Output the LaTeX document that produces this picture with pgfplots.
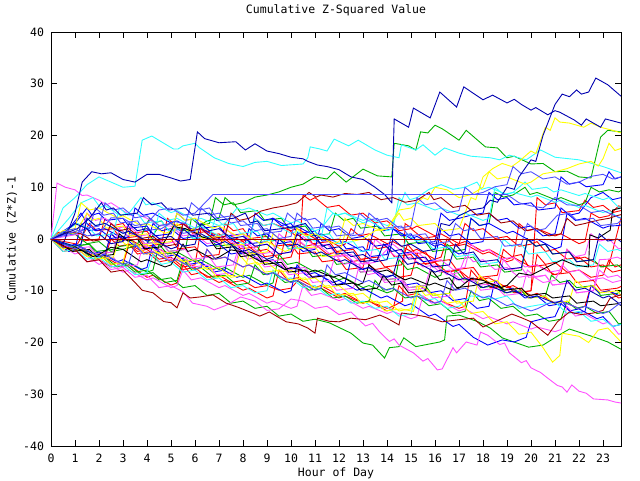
\documentclass[border=0pt]{standalone}
\usepackage{fontspec}
\setmainfont{DejaVu Sans Mono}
\usepackage{pgfplots}
\pgfplotsset{compat=1.18}
\definecolor{cR}{HTML}{FF0000}
\definecolor{cG}{HTML}{00B000}
\definecolor{cB}{HTML}{0000FF}
\definecolor{cM}{HTML}{FF50FF}
\definecolor{cC}{HTML}{30FFFF}
\definecolor{cY}{HTML}{FFFF00}
\definecolor{cK}{HTML}{000000}
\definecolor{cD}{HTML}{A00000}
\definecolor{cN}{HTML}{0000B0}
\definecolor{cS}{HTML}{5050FF}
\begin{document}
\fontsize{11.5}{13}\selectfont
\begin{tikzpicture}[x=1pt,y=1pt]
\path[use as bounding box] (0,0) rectangle (640,480);
\begin{axis}[
  at={(51pt,34pt)}, anchor=south west,
  scale only axis, width=570pt, height=414pt,
  xmin=0, xmax=23.75, ymin=-40, ymax=40,
  xtick={0,1,...,23}, ytick={-40,-30,...,40},
  tick align=inside, major tick length=6pt,
  tick style={black, line width=0.8pt},
  axis line style={black, line width=0.9pt},
  /pgf/number format/assume math mode=true,
  ticklabel style={font=\fontsize{11.5}{13}\selectfont},
  yticklabel style={xshift=-3pt},
  xticklabel style={yshift=-4pt},
  title={Cumulative Z-Squared Value},
  xlabel={Hour of Day},
  ylabel={Cumulative (Z*Z)-1},
  title style={at={(axis description cs:0.5,1)}, anchor=center, yshift=16pt, font=\fontsize{11.5}{13}\selectfont},
  xlabel style={at={(axis description cs:0.5,0)}, anchor=center, yshift=-27pt, font=\fontsize{11.5}{13}\selectfont},
  ylabel style={at={(axis description cs:0,0.5)}, anchor=center, yshift=39pt, font=\fontsize{11.5}{13}\selectfont},
  no markers,
  every axis plot/.append style={line width=0.9pt, line join=miter},
  clip=true,
]
% red series
\addplot[cR] coordinates {(0,0)(1,-1.9)(1.25,-1.5)(2,-3.4)(2.25,-3)(2.5,1)(2.85,-0.4)(3.25,0)(4,-1.9)(4.25,-1.5)(5,-2.9)(5.25,-2.5)(5.5,3)(5.85,1.6)(6.25,2)(7,0.6)(7.25,1)(8,-0.4)(8.25,0)(8.5,4)(8.85,2.6)(9.25,3)(10,1.6)(10.25,2)(11,0.1)(11.25,0.5)(12,-1.4)(12.25,-1)(12.5,2)(12.85,0.6)(13.25,1)(14,-0.9)(14.25,-0.5)(15,-2.4)(15.25,-2)(16,-3.9)(16.25,-3.5)(16.5,0)(16.85,-1.4)(17.25,-1)(18,-2.9)(18.25,-2.5)(19,-4.4)(19.25,-4)(19.5,3)(19.85,1.6)(20.25,2)(21,0.6)(21.25,1)(22,-0.9)(22.25,-0.5)(22.5,5)(22.85,4.1)(23.25,4.5)(23.65,6.4)(24,6)};
\addplot[cR] coordinates {(0,0)(1.1,-1)(1.6,3)(1.9,1.6)(2.6,2)(2.9,0.1)(3.6,0.5)(3.9,-1.4)(4.6,-1)(4.85,4)(5.2,2.6)(5.6,3)(5.9,1.1)(6.6,1.5)(6.9,-0.4)(7.6,0)(7.9,-1.9)(8.6,-1.5)(8.9,-3.4)(9.6,-3)(9.85,2)(10.2,0.6)(10.6,1)(10.9,-0.9)(11.6,-0.5)(11.9,-2.4)(12.6,-2)(12.9,-3.9)(13.6,-3.5)(13.9,-5.4)(14.6,-5)(14.85,-1)(15.2,-2.9)(15.6,-2.5)(15.9,-4.4)(16.6,-4)(16.9,-5.9)(17.6,-5.5)(17.9,-7.4)(18.6,-7)(18.85,-2)(19.2,-3.4)(19.6,-3)(19.9,-5.4)(20.6,-5)(20.9,-6.9)(21.6,-6.5)(21.9,-8.4)(22.6,-8)(22.9,-9.9)(23.6,-9.5)(24,-8.6)};
\addplot[cR] coordinates {(0,0)(0.5,-2.4)(1,-2)(1.5,-4.4)(2,-4)(2.5,-5.4)(3,-5)(3.25,-1)(3.6,-2.4)(4,-2)(4.5,-3.9)(5,-3.5)(5.5,-5.4)(6,-5)(6.25,2)(6.6,0.6)(7,1)(7.5,-0.9)(8,-0.5)(8.5,-2.4)(9,-2)(9.5,-3.9)(10,-3.5)(10.25,0)(10.6,-1.4)(11,-1)(11.5,-2.9)(12,-2.5)(12.5,-4.4)(13,-4)(13.5,-5.9)(14,-5.5)(14.5,-7.4)(15,-7)(15.25,-3)(15.6,-4.9)(16,-4.5)(16.5,-6.4)(17,-6)(17.5,-7.9)(18,-7.5)(18.5,-9.4)(19,-9)(19.5,-10.4)(20,-10)(20.25,-3)(20.6,-4.9)(21,-4.5)(21.5,-6.4)(22,-6)(22.5,-7.4)(23,-7)(23.25,-4)(23.5,-5.4)(23.75,-5)};
\addplot[cR] coordinates {(0,0)(1,-2.4)(1.25,-2)(2,-3.9)(2.25,-3.5)(3,-5.4)(3.25,-5)(4,-7.4)(4.25,-7)(5,-8.9)(5.25,-8.5)(5.5,-5)(5.85,-6.9)(6.25,-6.5)(7,-8.4)(7.25,-8)(8,-9.9)(8.25,-9.5)(9,-11.4)(9.25,-11)(9.5,-6)(9.85,-7.9)(10.25,-7.5)(11,-9.4)(11.25,-9)(12,-10.9)(12.25,-10.5)(13,-12.4)(13.25,-12)(14,-13.9)(14.25,-13.5)(14.5,-9)(14.85,-10.9)(15.25,-10.5)(16,-12.4)(16.25,-12)(17,-13.4)(17.25,-13)(17.5,-6)(17.85,-7.9)(18.25,-7.5)(19,-9.4)(19.25,-9)(20,-10.9)(20.25,-10.5)(21,-12.4)(21.25,-12)(22,-13.4)(22.25,-13)(22.5,-9)(22.85,-10.4)(23.25,-10)(23.65,-11.4)(24,-11)};
\addplot[cR] coordinates {(0,0)(0.3,1.3)(1,1)(1.3,-0.4)(2,0)(2.25,4)(2.6,2.6)(3,3)(3.3,1.1)(4,1.5)(4.3,-0.4)(5,0)(5.3,-1.9)(6,-1.5)(6.3,-3.4)(7,-3)(7.25,3)(7.6,1.6)(8,2)(8.3,0.1)(9,0.5)(9.3,-1.4)(10,-1)(10.3,-2.9)(11,-2.5)(11.3,-4.4)(12,-4)(12.3,-5.9)(13,-5.5)(13.25,0)(13.6,-1.9)(14,-1.5)(14.3,-3.4)(15,-3)(15.3,-4.9)(16,-4.5)(16.3,-6.4)(17,-6)(17.3,-7.9)(18,-7.5)(18.3,-9.4)(19,-9)(19.3,-10.4)(20,-10)(20.25,8)(20.6,6.6)(21,7)(21.3,5.1)(22,5.5)(22.25,7.5)(22.6,6.1)(23,6.5)(23.4,5.1)(23.75,5.5)};
\addplot[cR] coordinates {(0,0)(0.5,-1.9)(1,-1.5)(1.5,-3.4)(2,-3)(2.5,-4.9)(3,-4.5)(3.25,-1)(3.6,-2.9)(4,-2.5)(4.5,-4.4)(5,-4)(5.5,-5.9)(6,-5.5)(6.5,-7.4)(7,-7)(7.5,-8.4)(8,-8)(8.5,-9.4)(9,-9)(9.5,-9.9)(10,-9.5)(10.3,-8)(10.4,1)(10.5,8.5)(10.8,7.5)(11,8)(11.5,6.1)(12,6.5)(12.5,4.6)(13,5)(13.5,3.1)(14,3.5)(14.5,1.6)(15,2)(15.5,0.1)(16,0.5)(16.5,-1.4)(17,-1)(17.25,3)(17.6,1.6)(18,2)(18.5,0.1)(19,0.5)(19.5,-1.4)(20,-1)(20.25,-0.5)(20.6,-2.4)(21,-2)(21.5,-3.9)(22,-3.5)(22.5,-5.4)(23,-5)(23.4,-6.4)(23.75,-6)};
\addplot[cR] coordinates {(0,0)(1,-2.4)(1.25,-2)(2,-3.9)(2.25,-3.5)(2.5,0)(2.85,-1.4)(3.25,-1)(4,-2.9)(4.25,-2.5)(5,-4.4)(5.25,-4)(6,-5.9)(6.25,-5.5)(6.5,-2)(6.85,-3.9)(7.25,-3.5)(8,-5.4)(8.25,-5)(9,-6.9)(9.25,-6.5)(10,-8.4)(10.25,-8)(11,-9.9)(11.25,-9.5)(12,-11.4)(12.25,-11)(13,-12.4)(13.25,-12)(14,-13.4)(14.25,-13)(14.65,-12)(14.75,3)(15.05,2)(15.25,2.5)(16,0.6)(16.25,1)(17,-0.9)(17.25,-0.5)(18,-2.4)(18.25,-2)(19,-3.9)(19.25,-3.5)(20,-5.4)(20.25,-5)(21,-6.9)(21.25,-6.5)(21.5,-2)(21.85,-3.9)(22.25,-3.5)(23,-5.4)(23.25,-5)(23.75,4)(24,3)};
% green series
\addplot[cG] coordinates {(0,0)(0.9,-1.4)(1.6,-1)(1.9,-2.9)(2.6,-2.5)(2.85,2)(3.2,0.6)(3.6,1)(3.9,-0.9)(4.6,-0.5)(4.9,-2.4)(5.6,-2)(5.85,4)(6.2,2.6)(6.6,3)(6.85,8)(7.2,6.6)(7.6,7)(7.9,5.1)(8.6,5.5)(8.9,3.6)(9.6,4)(9.9,2.1)(10.6,2.5)(10.9,0.6)(11.6,1)(11.85,5)(12.2,3.6)(12.6,4)(12.9,2.1)(13.6,2.5)(13.9,0.6)(14.6,1)(14.9,-0.9)(15.6,-0.5)(15.9,-2.4)(16.6,-2)(16.9,-3.9)(17.6,-3.5)(17.9,-5.4)(18.6,-5)(18.9,-6.4)(19.6,-6)(19.85,0)(20.2,-1.4)(20.6,-1)(20.9,-2.9)(21.6,-2.5)(21.9,-4.4)(22.6,-4)(22.9,-5.4)(23.6,-5)(24,-6.4)};
\addplot[cG] coordinates {(0,0)(1,-1.9)(1.25,-1.5)(2,-3.4)(2.25,-3)(3,-4.9)(3.25,-4.5)(4,-6.4)(4.25,-6)(4.5,-1)(4.85,-2.9)(5.25,-2.5)(6,-4.4)(6.25,-4)(7,-5.9)(7.25,-5.5)(8,-7.4)(8.25,-7)(9,-8.9)(9.25,-8.5)(9.5,-3)(9.85,-4.9)(10.25,-4.5)(11,-6.4)(11.25,-6)(12,-7.9)(12.25,-7.5)(13,-9.4)(13.25,-9)(14,-10.4)(14.25,-10)(14.5,-4)(14.85,-5.9)(15.25,-5.5)(16,-7.4)(16.25,-7)(16.5,-1)(16.85,-2.4)(17.25,-2)(17.5,4)(17.85,2.6)(18.25,3)(18.5,9)(18.85,8.1)(19.25,8.5)(19.75,10)(19.95,8.6)(20.25,9)(21,7.6)(21.25,8)(22,6.6)(22.25,7)(22.5,10)(22.85,9.1)(23.25,9.5)(23.65,9.1)(24,10)};
\addplot[cG] coordinates {(0,0)(0.75,-2.4)(1.25,-2)(1.75,-3.9)(2.25,-3.5)(2.75,-5.4)(3.25,-5)(3.75,-6.9)(4.25,-6.5)(4.75,-8.4)(5.25,-8)(5.5,-4)(5.85,-5.9)(6.25,-5.5)(6.75,-7.4)(7.25,-7)(7.75,-8.9)(8.25,-8.5)(8.5,-5)(8.85,-6.9)(9.25,-6.5)(9.75,-8.4)(10.25,-8)(10.75,-9.9)(11.25,-9.5)(11.75,-11.4)(12.25,-11)(12.75,-12.4)(13.25,-12)(13.5,-8)(13.85,-9.9)(14.25,-9.5)(14.75,-11.4)(15.25,-11)(15.75,-12.9)(16.25,-12.5)(16.75,-14.4)(17.25,-14)(17.5,-10)(17.85,-11.9)(18.25,-11.5)(18.75,-13.4)(19.25,-13)(19.75,-14.9)(20.25,-14.5)(20.75,-15.9)(21.25,-15.5)(21.5,-12)(21.85,-13.4)(22.25,-13)(22.75,-14.4)(23.25,-14)(23.65,-16.4)(24,-16)};
\addplot[cG] coordinates {(0,0)(0.9,-1.4)(1.6,-1)(1.9,-2.4)(2.6,-2)(2.9,-1.4)(3.6,-1)(4.1,4)(4.3,3.1)(4.6,3.5)(4.9,1.6)(5.6,2)(5.9,0.1)(6.6,0.5)(6.9,-1.4)(7.6,-1)(7.9,-2.9)(8.6,-2.5)(8.85,1)(9.2,-0.4)(9.6,0)(9.9,-1.9)(10.6,-1.5)(10.9,-3.4)(11.6,-3)(11.9,-4.9)(12.6,-4.5)(12.9,-6.4)(13.6,-6)(13.9,-7.9)(14.6,-7.5)(14.9,-9.4)(15.6,-9)(15.9,-10.9)(16.6,-10.5)(16.85,-6)(17.2,-7.9)(17.6,-7.5)(17.9,-9.4)(18.6,-9)(18.9,-10.4)(19.6,-10)(19.9,-11.4)(20.6,-11)(20.85,-7)(21.2,-8.4)(21.6,-8)(21.9,-9.4)(22.6,-9)(22.9,-10.9)(23.6,-10.5)(24,-9.1)};
\addplot[cG] coordinates {(0,0)(0.5,-1.4)(1,-2)(1.5,-2.4)(2,-3)(2.5,-4.9)(3,-4.5)(3.5,-6.4)(4,-6)(4.5,-7.9)(5,-7.5)(5.5,-9.4)(6,-9)(6.5,-10.9)(7,-10.5)(7.5,-12.4)(8,-12)(8.5,-13.4)(9,-13)(9.5,-14.9)(10,-14.5)(10.5,-15.9)(11,-15.5)(11.6,-16.2)(12.5,-18.2)(13,-20.1)(13.4,-20.5)(13.9,-23)(14.1,-21)(14.5,-20.8)(14.7,-19.1)(15.2,-20.8)(16.2,-19.9)(16.4,-19.5)(16.5,-14.9)(17,-14.7)(17.8,-16)(18.3,-17.2)(18.8,-19.1)(19.9,-20.9)(20.5,-20.5)(21.3,-18.2)(21.6,-17.4)(22.6,-18.9)(23.2,-19.9)(23.75,-21.3)};
\addplot[cG] coordinates {(0,0)(0.5,1.3)(1,1)(1.5,-0.9)(2,-0.5)(2.5,-2.4)(3,-2)(3.5,-1.4)(4,-1)(4.5,2.5)(5,3)(5.5,1.6)(6,2)(6.5,3.5)(7,4)(7.25,8)(7.6,6.6)(8,7)(8.5,8.1)(9,8.5)(9.5,9.1)(10,10)(10.5,10.6)(11,12)(11.5,11.6)(11.8,13)(12.3,11)(13,13.5)(13.6,12.2)(14.2,12)(14.3,18.5)(14.9,18)(15.2,17.2)(15.4,20.7)(15.7,20.5)(16,22)(16.3,21.3)(17,19.1)(17.3,21)(18.1,17.8)(18.6,17.6)(19,15.7)(19.3,16)(20,14.5)(20.5,14.6)(21,13)(21.5,13.1)(22,12)(22.5,11.8)(22.9,19.7)(23.2,21)(23.75,20.7)};
% blue series
\addplot[cB] coordinates {(0,0)(0.75,2)(1.25,5)(1.5,3)(1.85,1.6)(2.25,2)(3,0.1)(3.25,0.5)(3.5,6)(3.85,4.6)(4.25,5)(5,3.1)(5.25,3.5)(6,1.6)(6.25,2)(7,0.1)(7.25,0.5)(8,-1.4)(8.25,-1)(8.5,5)(8.85,3.6)(9.25,4)(10,2.1)(10.25,2.5)(11,0.6)(11.25,1)(12,-0.9)(12.25,-0.5)(13,-2.4)(13.25,-2)(13.5,3)(13.85,1.6)(14.25,2)(15,0.1)(15.25,0.5)(16,-1.4)(16.25,-1)(17,-2.9)(17.25,-2.5)(17.5,4)(17.85,2.6)(18.25,3)(19,1.1)(19.25,1.5)(20,-0.4)(20.25,0)(21,-1.9)(21.25,-1.5)(21.5,5)(21.85,3.6)(22.25,4)(23,2.1)(23.25,2.5)(23.65,2.6)(24,3)};
\addplot[cB] coordinates {(0,0)(0.75,-2.4)(1.25,-2)(1.75,-3.4)(2.25,-3)(2.5,1)(2.85,-0.4)(3.25,0)(3.75,-1.9)(4.25,-1.5)(4.75,-3.4)(5.25,-3)(5.75,-4.9)(6.25,-4.5)(6.75,-6.4)(7.25,-6)(7.5,-1)(7.85,-2.9)(8.25,-2.5)(8.75,-4.4)(9.25,-4)(9.75,-5.9)(10.25,-5.5)(10.75,-7.4)(11.25,-7)(11.75,-8.9)(12.25,-8.5)(12.5,-4)(12.85,-5.9)(13.25,-5.5)(13.75,-7.4)(14.25,-7)(14.75,-8.9)(15.25,-8.5)(15.75,-10.4)(16.25,-10)(16.75,-11.9)(17.25,-11.5)(17.75,-13.4)(18.25,-13)(18.5,-8)(18.85,-9.9)(19.25,-9.5)(19.75,-11.4)(20.25,-11)(20.75,-12.9)(21.25,-12.5)(21.75,-14.4)(22.25,-14)(22.5,-9)(22.85,-10.4)(23.25,-10)(23.65,-10.9)(24,-10.5)};
\addplot[cB] coordinates {(0,0)(0.5,1.5)(1,3)(1.5,6)(1.7,4.6)(2,5)(2.3,3.6)(3,4)(3.3,2.1)(4,2.5)(4.3,0.6)(5,1)(5.25,5)(5.6,3.6)(6,4)(6.3,2.1)(7,2.5)(7.3,0.6)(8,1)(8.3,-0.9)(9,-0.5)(9.25,4)(9.6,2.6)(10,3)(10.3,1.1)(11,1.5)(11.3,-0.4)(12,0)(12.3,-1.9)(13,-1.5)(13.3,-3.4)(14,-3)(14.25,2)(14.6,0.6)(15,1)(15.3,-0.9)(16,-0.5)(16.25,5)(16.6,3.6)(17,4)(17.5,4.6)(18,5)(18.25,9)(18.6,7.6)(19,8)(19.3,6.6)(20,7)(20.3,5.6)(21,6)(21.25,12)(21.6,10.6)(22,11)(22.3,10.1)(23,10.5)(23.25,13)(23.5,11.6)(23.75,12)};
\addplot[cB] coordinates {(0,0)(0.75,-1.4)(1,-1)(1.75,-2.9)(2,-2.5)(2.75,-4.4)(3,-4)(3.75,-5.9)(4,-5.5)(4.25,-1)(4.6,-2.9)(5,-2.5)(5.75,-4.4)(6,-4)(6.75,-5.9)(7,-5.5)(7.75,-7.4)(8,-7)(8.75,-8.9)(9,-8.5)(9.75,-10.4)(10,-10)(10.25,-5)(10.6,-6.9)(11,-6.5)(11.75,-8.4)(12,-8)(12.75,-9.9)(13,-9.5)(13.75,-11.4)(14,-11)(14.75,-12.9)(15,-12.5)(15.75,-14.9)(16,-14.5)(16.75,-16.9)(17,-16.5)(17.6,-19)(18.2,-20.5)(18.8,-19.5)(19.3,-19.9)(19.8,-19)(20,-16)(20.5,-15.4)(21,-15)(21.3,-12)(21.6,-13.9)(22,-13.5)(22.75,-15.4)(23,-15)(23.4,-16.9)(23.75,-16.5)};
\addplot[cB] coordinates {(0,0)(0.5,-1)(1,-2)(1.25,3)(1.6,1.6)(2,2)(2.5,0.1)(3,0.5)(3.5,-1.4)(4,-1)(4.25,3)(4.6,1.6)(5,2)(5.5,0.1)(6,0.5)(6.5,-1.4)(7,-1)(7.5,-2.9)(8,-2.5)(8.25,2)(8.6,0.6)(9,1)(9.5,-0.9)(10,-0.5)(10.5,-2.4)(11,-2)(11.25,3)(11.6,1.6)(12,2)(12.5,0.1)(13,0.5)(13.5,-1.4)(14,-1)(14.5,-2.9)(15,-2.5)(15.5,-4.4)(16,-4)(16.25,2)(16.6,0.6)(17,1)(17.5,-0.9)(18,-0.5)(18.25,5)(18.6,3.6)(19,4)(19.5,2.1)(20,2.5)(20.5,0.6)(21,1)(21.25,6)(21.6,4.6)(22,5)(22.5,8)(23,9)(23.4,7.6)(23.75,8)};
% magenta series
\addplot[cM] coordinates {(0,0)(0.5,-1.4)(1,-2)(1.5,-4.4)(2,-4)(2.5,-5.9)(3,-5.5)(3.5,-7.4)(4,-7)(4.5,-9.4)(5,-9)(5.5,-10.2)(5.9,-12.4)(6.5,-13)(6.8,-13.7)(7.3,-12.8)(7.9,-11.2)(8.5,-12)(9,-13.8)(9.5,-13.5)(10,-11.6)(10.5,-12)(11,-13.4)(11.5,-13)(12,-14.6)(12.5,-14.1)(13.1,-16.8)(13.4,-16.3)(13.7,-18)(14.1,-19.8)(14.3,-19.3)(14.5,-20.5)(15.1,-22)(15.5,-23.6)(15.7,-23.1)(16.1,-25.3)(16.3,-25.1)(16.75,-21)(16.9,-22)(17.3,-19.9)(17.75,-20.5)(17.9,-18)(18.2,-18.6)(18.7,-20.4)(18.9,-20.1)(19.1,-22)(19.6,-23.9)(19.8,-23.5)(20,-24.9)(20.4,-25.8)(20.7,-26.9)(21.1,-28.3)(21.3,-28.6)(21.5,-29.6)(21.7,-28.2)(22,-29.4)(22.3,-29.8)(22.6,-30.9)(23.2,-31.1)(23.5,-31.5)(23.75,-31.7)};
\addplot[cM] coordinates {(0,0)(0.25,10.8)(0.6,10)(1,9.5)(1.3,8.4)(1.5,8.5)(2,7.5)(2.3,6.6)(2.5,7)(3,5.5)(3.3,4.6)(3.5,5)(4,4)(4.5,2.6)(5,2.5)(5.5,0.6)(6,1)(6.5,-0.9)(7,-0.5)(7.3,2)(7.6,0.6)(8,1)(8.5,-1.4)(9,-1)(9.5,-2.9)(10,-2.5)(10.5,0.5)(11,-1.4)(11.5,-1)(12,-3.4)(12.5,-3)(13,-4.9)(13.5,-4.5)(14,-2)(14.5,-3.9)(15,-3.5)(15.5,-5.4)(16,-5)(16.5,-6.9)(17,-6.5)(17.3,-3)(17.6,-4.4)(18,-4)(18.5,-5.9)(19,-5.5)(19.5,-7.4)(20,-7)(20.5,-8.4)(21,-8)(21.3,-5)(21.6,-6.4)(22,-6)(22.5,-7.9)(23,-7.5)(23.4,-8.4)(23.75,-8)};
\addplot[cM] coordinates {(0,0)(0.9,-2.4)(1.6,-2)(1.9,-3.9)(2.6,-3.5)(2.9,-5.4)(3.6,-5)(3.85,-1)(4.2,-2.4)(4.6,-2)(4.9,-3.9)(5.6,-3.5)(5.9,-5.4)(6.6,-5)(6.9,-6.9)(7.6,-6.5)(7.85,-2)(8.2,-3.9)(8.6,-3.5)(8.9,-5.4)(9.6,-5)(9.9,-6.9)(10.6,-6.5)(10.9,-8.4)(11.6,-8)(11.9,-9.9)(12.6,-9.5)(12.85,-5)(13.2,-6.9)(13.6,-6.5)(13.9,-8.4)(14.6,-8)(14.9,-9.9)(15.6,-9.5)(15.9,-11.4)(16.6,-11)(16.85,-7)(17.2,-8.4)(17.6,-8)(17.9,-9.9)(18.6,-9.5)(18.9,-10.9)(19.6,-10.5)(19.85,-6)(20.2,-7.4)(20.6,-7)(20.9,-8.9)(21.6,-8.5)(21.9,-10.4)(22.6,-10)(22.85,-4)(23.2,-3.9)(23.6,-3.5)(24,-4.4)};
\addplot[cM] coordinates {(0,0)(1,-2.9)(1.25,-2.5)(2,-4.9)(2.25,-4.5)(3,-6.4)(3.25,-6)(4,-7.9)(4.25,-7.5)(5,-9.4)(5.25,-9)(5.5,-6)(5.85,-7.9)(6.25,-7.5)(7,-9.4)(7.25,-9)(8,-10.9)(8.25,-10.5)(9,-12.4)(9.25,-12)(10,-13.4)(10.25,-13)(10.5,-9)(10.85,-10.9)(11.25,-10.5)(12,-11.9)(12.25,-11.5)(13,-13.4)(13.25,-13)(14,-14.4)(14.25,-14)(15,-15.4)(15.25,-15)(15.5,-11)(15.85,-12.4)(16.25,-12)(17,-13.9)(17.25,-13.5)(18,-15.4)(18.25,-15)(19,-16.4)(19.25,-16)(20,-17.4)(20.25,-17)(21,-17.9)(21.25,-17.5)(21.5,-13)(21.85,-14.9)(22.25,-14.5)(23,-16.4)(23.25,-16)(23.65,-18.4)(24,-18)};
\addplot[cM] coordinates {(0,0)(0.75,0.6)(1.25,1)(1.5,5)(1.85,3.6)(2.25,4)(2.75,2.1)(3.25,2.5)(3.75,0.6)(4.25,1)(4.75,-0.9)(5.25,-0.5)(5.5,3)(5.85,1.6)(6.25,2)(6.75,0.1)(7.25,0.5)(7.75,-1.4)(8.25,-1)(8.75,-2.9)(9.25,-2.5)(9.5,1)(9.85,-0.4)(10.25,0)(10.75,-1.9)(11.25,-1.5)(11.75,-3.4)(12.25,-3)(12.75,-4.9)(13.25,-4.5)(13.5,0)(13.85,-1.4)(14.25,-1)(14.75,-2.9)(15.25,-2.5)(15.75,-4.4)(16.25,-4)(16.75,-5.9)(17.25,-5.5)(17.5,-1)(17.85,-2.4)(18.25,-2)(18.75,-3.9)(19.25,-3.5)(19.75,-5.4)(20.25,-5)(20.75,-6.4)(21.25,-6)(21.5,-2)(21.85,-3.4)(22.25,-3)(22.5,1)(22.85,-0.4)(23.25,0)(23.65,-1.9)(24,-1.5)};
\addplot[cM] coordinates {(0,0)(0.9,-1.9)(1.6,-1.5)(1.9,-2.9)(2.6,-2.5)(2.85,2)(3.2,0.6)(3.6,1)(3.9,-0.9)(4.6,-0.5)(4.9,-2.4)(5.6,-2)(5.9,-3.9)(6.6,-3.5)(6.9,-5.4)(7.6,-5)(7.85,-1)(8.2,-2.9)(8.6,-2.5)(8.9,-4.4)(9.6,-4)(9.9,-5.9)(10.6,-5.5)(10.9,-7.4)(11.6,-7)(11.85,-3)(12.2,-4.9)(12.6,-4.5)(12.9,-6.4)(13.6,-6)(13.9,-7.9)(14.6,-7.5)(14.9,-9.4)(15.6,-9)(15.85,-5)(16.2,-6.4)(16.6,-6)(16.9,-7.9)(17.6,-7.5)(17.9,-8.9)(18.6,-8.5)(18.85,-4)(19.2,-5.9)(19.6,-5.5)(19.9,-7.4)(20.6,-7)(20.9,-8.9)(21.6,-8.5)(21.9,-10.4)(22.6,-10)(22.85,-6)(23.2,-7.4)(23.6,-7)(24,-8.4)};
% cyan series
\addplot[cC] coordinates {(0,0)(0.5,6)(1,8)(1.5,10.5)(2,12)(2.5,11)(3,10)(3.5,10.2)(3.8,19.1)(4.2,19.9)(5.1,17.4)(5.3,17.4)(5.5,18)(6,18.5)(6.2,17.6)(6.8,15.7)(7.4,14.6)(8,14)(8.5,14.8)(9,15)(9.6,14.2)(10.5,14.5)(10.7,15.7)(10.8,17.8)(11.2,17.4)(11.5,17)(11.8,19.3)(12.4,18)(12.8,19.1)(13.5,17.2)(14,16.2)(14.5,15.7)(14.6,18.2)(15.2,17.2)(15.5,18.2)(16,16.2)(16.4,17.6)(17,16.6)(17.5,16)(18.3,15.7)(18.7,15.3)(19.1,16.2)(19.8,15.3)(20.4,17.2)(21,15.8)(22,15.3)(23,14)(23.75,12.8)};
\addplot[cC] coordinates {(0,0)(0.75,4)(1.25,7)(1.75,8)(2.05,6.1)(2.25,6.5)(2.85,4.6)(3.25,5)(3.75,8)(3.95,6.6)(4.25,7)(5,5.1)(5.25,5.5)(6,3.6)(6.25,4)(7,2.6)(7.25,3)(7.75,6)(7.95,5.6)(8.25,6)(9,4.6)(9.25,5)(10,3.1)(10.25,3.5)(11,1.6)(11.25,2)(11.75,5)(11.95,4.6)(12.25,5)(13,3.6)(13.25,4)(14,2.6)(14.25,3)(14.75,9)(14.95,7.6)(15.25,8)(15.75,9.6)(16.25,10.5)(16.75,9.6)(17.25,10)(17.75,11)(17.95,9.6)(18.25,10)(19,8.6)(19.25,9)(19.75,11)(20.05,9.6)(20.65,10)(20.95,9.1)(21.25,9.5)(22,8.4)(22.25,8.8)(23,7.6)(23.25,8)(23.65,6.1)(24,6.5)};
\addplot[cC] coordinates {(0,0)(1.1,3)(1.6,2)(1.9,0.6)(2.6,1)(2.85,6)(3.2,4.6)(3.6,5)(3.9,3.1)(4.6,3.5)(4.9,1.6)(5.6,2)(5.9,0.1)(6.6,0.5)(6.85,4)(7.2,2.6)(7.6,3)(7.9,1.1)(8.6,1.5)(8.9,-0.4)(9.6,0)(9.9,-1.9)(10.6,-1.5)(10.85,2)(11.2,0.6)(11.6,1)(11.9,-0.9)(12.6,-0.5)(12.9,-2.4)(13.6,-2)(13.9,-3.9)(14.6,-3.5)(14.85,1)(15.2,-0.4)(15.6,0)(15.9,-1.9)(16.6,-1.5)(16.9,-3.4)(17.6,-3)(17.9,-4.9)(18.6,-4.5)(18.85,0)(19.2,-1.4)(19.6,-1)(19.9,-2.9)(20.6,-2.5)(20.9,-4.4)(21.6,-4)(21.9,-5.4)(22.6,-5)(22.85,-1)(23.2,-2.4)(23.6,-2)(24,-2.9)};
\addplot[cC] coordinates {(0,0)(0.5,-2.4)(1,-2)(1.5,-3.9)(2,-3.5)(2.5,-5.4)(3,-5)(3.5,-6.9)(4,-6.5)(4.25,-3)(4.6,-4.9)(5,-4.5)(5.5,-6.4)(6,-6)(6.5,-7.9)(7,-7.5)(7.5,-9.4)(8,-9)(8.5,-10.4)(9,-10)(9.25,-6)(9.6,-7.9)(10,-7.5)(10.5,-9.4)(11,-9)(11.5,-10.9)(12,-10.5)(12.5,-12.4)(13,-12)(13.5,-13.4)(14,-13)(14.5,-14.9)(15,-14.5)(15.25,-10)(15.6,-11.9)(16,-11.5)(16.5,-13.4)(17,-13)(17.5,-11)(18,-11.2)(18.5,-11.6)(19,-11)(19.5,-13.4)(20,-13)(20.5,-12.6)(21,-12.2)(21.5,-14.4)(22,-14)(22.5,-15.9)(23,-15.5)(23.4,-16.9)(23.75,-16.5)};
\addplot[cC] coordinates {(0,0)(1,-1.4)(1.25,-1)(1.5,4)(1.85,2.6)(2.25,3)(3,1.1)(3.25,1.5)(4,-0.4)(4.25,0)(4.5,5)(4.85,3.6)(5.25,4)(6,2.1)(6.25,2.5)(7,0.6)(7.25,1)(8,-0.9)(8.25,-0.5)(8.5,4)(8.85,2.6)(9.25,3)(10,1.1)(10.25,1.5)(11,-0.4)(11.25,0)(11.5,6)(11.85,4.6)(12.25,5)(13,3.1)(13.25,3.5)(14,1.6)(14.25,2)(14.5,8)(14.85,6.6)(15.25,7)(16,5.6)(16.25,6)(17,4.6)(17.25,5)(18,3.6)(18.25,4)(18.5,10)(18.85,8.6)(19.25,9)(20,8.1)(20.25,8.5)(21,7.1)(21.25,7.5)(22,6.1)(22.25,6.5)(23,5.1)(23.25,5.5)(23.65,4.1)(24,4.5)};
% yellow series
\addplot[cY] coordinates {(0,0)(0.5,1.5)(1,1)(1.5,5)(1.7,3.6)(2,4)(2.3,2.1)(3,2.5)(3.3,0.6)(4,1)(4.3,-0.9)(5,-0.5)(5.25,3)(5.6,1.6)(6,2)(6.3,0.1)(7,0.5)(7.3,-1.4)(8,-1)(8.3,-2.9)(9,-2.5)(9.25,1)(9.6,-0.4)(10,0)(10.3,-1.9)(11,-1.5)(11.3,-3.4)(12,-3)(12.25,1)(12.6,-0.4)(13,0)(13.5,1.6)(14,2)(14.5,5)(14.7,3.6)(15,4)(15.3,2.6)(16,3)(16.3,1.6)(17,2)(17.5,8)(17.7,7.6)(18,12)(18.4,13.6)(18.8,14.6)(19.2,14)(19.5,15)(20,17)(20.2,16.5)(20.6,21.6)(20.8,21)(21,23.4)(21.2,22.6)(21.6,22.4)(22.2,21.6)(22.5,22.4)(22.9,21.6)(23.4,21)(23.75,20.5)};
\addplot[cY] coordinates {(0,0)(0.5,1.6)(1,2)(1.25,7)(1.6,5.6)(2,6)(2.75,4.1)(3,4.5)(3.75,2.6)(4,3)(4.75,1.1)(5,1.5)(5.25,5)(5.6,3.6)(6,4)(6.75,2.1)(7,2.5)(7.75,0.6)(8,1)(8.75,-0.9)(9,-0.5)(9.75,-2.4)(10,-2)(10.25,2)(10.6,0.6)(11,1)(11.75,-0.9)(12,-0.5)(12.25,4)(12.6,2.6)(13,3)(13.75,1.6)(14,2)(14.5,5.6)(15,6)(15.5,8)(15.7,7.6)(16,10)(16.5,9.5)(17,8)(17.5,8.6)(18,10)(18.25,13)(18.6,11.6)(19,12)(19.75,10.6)(20,11)(20.5,12.6)(21,13)(21.5,13.6)(22,14.5)(22.5,15)(22.8,14.1)(23,15.5)(23.25,18.5)(23.5,17.1)(23.75,17.5)};
\addplot[cY] coordinates {(0,0)(0.5,-1.9)(1,-1.5)(1.5,-3.4)(2,-3)(2.5,-4.9)(3,-4.5)(3.25,0)(3.6,-1.4)(4,-1)(4.5,-2.9)(5,-2.5)(5.5,-4.4)(6,-4)(6.5,-5.9)(7,-5.5)(7.5,-7.4)(8,-7)(8.25,-3)(8.6,-4.9)(9,-4.5)(9.5,-6.4)(10,-6)(10.5,-7.9)(11,-7.5)(11.5,-9.4)(12,-9)(12.5,-10.9)(13,-10.5)(13.5,-12.4)(14,-12)(14.5,-13.9)(15,-13.5)(15.25,-9)(15.6,-10.9)(16,-10.5)(16.5,-12.4)(17,-12)(17.5,-14.4)(18,-14)(18.5,-16.4)(19,-16)(19.5,-18.4)(20,-18)(20.5,-21)(20.9,-23.8)(21.2,-22.5)(21.3,-18.2)(22,-18.8)(22.4,-20)(22.8,-17.6)(23.2,-17.2)(23.75,-19.9)};
\addplot[cY] coordinates {(0,0)(0.9,-2.4)(1.6,-2)(1.9,-3.9)(2.6,-3.5)(2.85,0)(3.2,-1.4)(3.6,-1)(3.9,-2.9)(4.6,-2.5)(4.9,-4.4)(5.6,-4)(5.9,-5.9)(6.6,-5.5)(6.9,-7.4)(7.6,-7)(7.85,-3)(8.2,-4.9)(8.6,-4.5)(8.9,-6.4)(9.6,-6)(9.9,-7.9)(10.6,-7.5)(10.9,-9.4)(11.6,-9)(11.9,-10.9)(12.6,-10.5)(12.9,-12.4)(13.6,-12)(13.9,-13.9)(14.6,-13.5)(15.1,-14)(15.35,-9)(15.6,-9.5)(15.9,-10.9)(16.6,-10.5)(16.9,-12.4)(17.6,-12)(17.85,-7)(18.2,-8.4)(18.6,-8)(18.9,-9.9)(19.6,-9.5)(19.9,-11.4)(20.6,-11)(20.9,-12.4)(21.6,-12)(21.85,-8)(22.2,-9.4)(22.6,-9)(22.9,-10.4)(23.6,-10)(24,-12.4)};
% black series
\addplot[cK] coordinates {(0,0)(0.75,-1.9)(1,-1.5)(1.75,-3.4)(2,-3)(2.5,-1.6)(3,-2)(3.75,-4.4)(4,-4)(4.75,-5.4)(5,-5)(5.5,-1)(5.7,-2.4)(6,-2)(6.75,-3.9)(7,-3.5)(7.5,-2.1)(8,-2.5)(8.75,-4.4)(9,-4)(9.75,-5.9)(10,-5.5)(10.75,-6.4)(11,-6)(11.75,-7.4)(12,-7)(12.75,-8.9)(13,-8.5)(13.25,-5)(13.6,-6.4)(14,-6)(14.75,-7.9)(15,-7.5)(15.75,-8.9)(16,-8.5)(16.75,-9.9)(17,-9.5)(17.5,-7.6)(18,-8)(18.75,-9.4)(19,-9)(19.5,-6.6)(20,-7)(20.6,-5.6)(21.3,-4)(21.8,-5)(22.4,-5.4)(22.45,0.8)(22.8,0.2)(23.3,1.7)(23.4,5.6)(23.75,6)};
\addplot[cK] coordinates {(0,0)(0.9,-2.4)(1.6,-2)(1.9,-3.4)(2.6,-3)(2.85,1)(3.2,-0.4)(3.6,0)(3.9,-1.9)(4.6,-1.5)(5.1,2.4)(5.6,2)(6.1,1)(6.3,0.4)(6.6,0)(6.9,-1.9)(7.6,-1.5)(7.9,-3.4)(8.6,-3)(8.9,-4.9)(9.6,-4.5)(9.9,-6.4)(10.6,-6)(10.9,-7.4)(11.6,-7)(11.9,-8.9)(12.6,-8.5)(12.9,-9.9)(13.6,-9.5)(13.85,-7)(14.2,-8.9)(14.6,-8.5)(14.9,-10.4)(15.6,-10)(15.85,-6)(16.2,-7.9)(16.6,-7.5)(16.9,-9.4)(17.6,-9)(18.1,-8.4)(18.6,-9)(18.9,-9.9)(19.6,-9.5)(19.9,-10.9)(20.6,-10.5)(20.9,-11.4)(21.6,-11)(21.9,-12.4)(22.6,-12)(22.9,-12.9)(23.6,-12.5)(24,-13.4)};
% dark red series
\addplot[cD] coordinates {(0,0)(0.75,1.4)(1.25,1)(1.75,-0.4)(2.25,0)(2.5,3)(2.85,1.6)(3.25,2)(3.75,0.1)(4.25,0.5)(4.75,-1.4)(5.25,-1)(5.5,3)(5.85,1.6)(6.25,2)(6.75,0.1)(7.25,0.5)(7.5,5)(7.85,3.6)(8.25,4)(8.75,5.4)(9.25,6)(9.75,6.4)(10.25,7)(10.75,9)(11.05,8.1)(11.25,8.5)(11.75,8.1)(12.25,8.8)(12.75,8.6)(13.25,9)(13.75,7.6)(14.25,8)(14.75,7.1)(15.25,7.5)(15.75,9)(15.95,7.6)(16.25,8)(16.75,6.1)(17.25,6.5)(17.75,4.6)(18.25,5)(18.75,3.1)(19.25,3.5)(19.75,1.6)(20.25,2)(20.75,0.6)(21.25,1)(21.5,4)(21.85,2.6)(22.25,3)(22.75,3.6)(23.25,4)(23.65,4.6)(24,5)};
\addplot[cD] coordinates {(0,0)(0.5,-1.4)(1,-2)(1.5,-4.4)(2,-4)(2.5,-6.4)(3,-6)(3.5,-8.4)(3.8,-9.9)(4.25,-10.4)(4.7,-12.1)(5,-12.3)(5.25,-13.3)(5.5,-10.4)(5.8,-11.4)(6.2,-11.2)(6.75,-10.8)(7.3,-12.4)(7.8,-13.2)(8.4,-14.3)(8.7,-14.9)(9.1,-14.1)(9.8,-16)(10.3,-16.4)(10.7,-17.2)(11,-18.2)(11.1,-15.3)(11.6,-15.9)(12,-16)(12.5,-15.3)(13.1,-15.6)(13.7,-14.7)(14,-15.3)(14.5,-16.6)(14.6,-14.3)(15.1,-14.6)(15.6,-15)(16.3,-16)(17,-15.6)(17.6,-15.3)(18,-17)(18.5,-16)(19.2,-14.5)(19.6,-15.2)(20,-16)(20.7,-18.6)(21.1,-16)(21.6,-14.1)(22.1,-14.6)(22.6,-14.3)(23,-13.8)(23.3,-11.4)(23.75,-10.8)};
% slate series
\addplot[cS] coordinates {(0,0)(1.1,1.6)(1.6,2)(1.85,6)(2.2,4.6)(2.6,5)(2.9,3.1)(3.6,3.5)(3.9,1.6)(4.6,2)(5.1,3.4)(5.6,3)(5.85,7)(6.2,5.6)(6.6,6)(6.9,4.1)(7.6,4.5)(7.9,2.6)(8.6,3)(8.9,1.1)(9.6,1.5)(9.85,5)(10.2,3.6)(10.6,4)(10.9,2.1)(11.6,2.5)(11.9,0.6)(12.6,1)(12.85,5)(13.2,3.6)(13.6,4)(13.9,2.1)(14.6,2.5)(14.9,0.6)(15.6,1)(15.9,-0.9)(16.6,-0.5)(16.85,3)(17.2,1.6)(17.6,2)(17.9,0.1)(18.6,0.5)(18.9,-1.4)(19.6,-1)(19.85,3)(20.2,1.6)(20.6,2)(21.1,4.6)(21.6,5)(21.9,3.6)(22.6,4)(22.9,2.6)(23.6,3)(24,4.6)};
\addplot[cS] coordinates {(0,0)(1,-1.9)(1.25,-1.5)(2,-3.4)(2.25,-3)(3,-4.9)(3.25,-4.5)(3.5,-1)(3.85,-2.9)(4.25,-2.5)(5,-4.4)(5.25,-4)(6,-5.9)(6.25,-5.5)(6.5,-2)(6.85,-3.9)(7.25,-3.5)(8,-5.4)(8.25,-5)(9,-6.9)(9.25,-6.5)(10,-8.4)(10.25,-8)(11,-9.9)(11.25,-9.5)(11.5,-5)(11.85,-6.9)(12.25,-6.5)(13,-8.4)(13.25,-8)(14,-9.9)(14.25,-9.5)(15,-11.4)(15.25,-11)(16,-12.4)(16.25,-12)(16.5,-8)(16.85,-9.9)(17.25,-9.5)(18,-11.4)(18.25,-11)(19,-12.9)(19.25,-12.5)(20,-13.9)(20.25,-13.5)(20.75,-12.4)(21.25,-12)(22,-13.4)(22.25,-13)(23,-14.4)(23.25,-14)(23.65,-12.6)(24,-13)};
\addplot[cS] coordinates {(0,0)(0.5,0.6)(1,1)(1.5,2.1)(2,2.5)(2.25,7)(2.6,5.6)(3,6)(3.5,4.1)(4,4.5)(4.5,2.6)(5,3)(5.5,1.1)(6,1.5)(6.25,6)(6.6,4.6)(7,5)(7.5,3.1)(8,3.5)(8.5,1.6)(9,2)(9.5,0.1)(10,0.5)(10.25,5)(10.6,3.6)(11,4)(11.5,2.1)(12,2.5)(12.5,0.6)(13,1)(13.25,5)(13.6,3.6)(14,4)(14.5,2.1)(15,2.5)(15.25,8)(15.6,6.6)(16,7)(16.5,5.1)(17,5.5)(17.25,10)(17.6,8.6)(18,9)(18.5,10.1)(19,10.5)(19.25,14)(19.6,12.6)(20,13)(20.5,11.6)(21,12)(21.5,10.6)(22,11)(22.5,12.1)(23,12.5)(23.4,11.6)(23.75,12)};
% navy series
\addplot[cN] coordinates {(0,0)(1,-1.4)(1.25,-1)(1.5,4)(1.85,2.6)(2.25,3)(3,1.1)(3.25,1.5)(4,-0.4)(4.25,0)(5,-1.9)(5.25,-1.5)(5.5,2)(5.85,0.6)(6.25,1)(7,-0.9)(7.25,-0.5)(8,-2.4)(8.25,-2)(9,-3.9)(9.25,-3.5)(9.5,0)(9.85,-1.4)(10.25,-1)(11,-2.9)(11.25,-2.5)(12,-4.4)(12.25,-4)(13,-5.9)(13.25,-5.5)(14,-7.4)(14.25,-7)(14.5,-3)(14.85,-4.9)(15.25,-4.5)(16,-6.4)(16.25,-6)(17,-7.9)(17.25,-7.5)(18,-9.4)(18.25,-9)(19,-10.4)(19.25,-10)(20,-11.4)(20.25,-11)(21,-12.4)(21.25,-12)(21.5,-8)(21.85,-9.9)(22.25,-9.5)(23,-11.4)(23.25,-11)(23.65,-12.4)(24,-12)};
\addplot[cN] coordinates {(0,0)(1.1,2)(1.6,4)(2.1,7)(2.3,5.6)(2.6,6)(2.9,4.6)(3.6,5)(3.85,8)(4.2,6.6)(4.6,7)(4.9,5.6)(5.6,6)(5.9,4.6)(6.6,5)(6.9,3.6)(7.6,4)(8.1,5)(8.3,3.1)(8.6,3.5)(8.9,1.6)(9.6,2)(10.1,2.4)(10.6,3)(11.1,0)(11.3,-1.4)(11.6,-1)(11.9,-2.9)(12.6,-2.5)(12.9,-4.4)(13.6,-4)(13.85,-1)(14.2,-2.4)(14.6,-2)(14.9,-3.9)(15.6,-3.5)(15.9,-5.4)(16.6,-5)(16.85,-1)(17.2,-2.9)(17.6,-2.5)(17.9,-4.4)(18.6,-4)(18.9,-5.9)(19.6,-5.5)(19.85,0)(20.2,-1.4)(20.6,-1)(20.9,-2.9)(21.6,-2.5)(21.9,-4.4)(22.6,-4)(22.85,1)(23.2,-0.4)(23.6,0)(24,-1.4)};
\addplot[cN] coordinates {(0,0)(0.5,1)(1,3)(1.5,2)(1.7,0.6)(2,1)(2.5,-0.9)(3,-0.5)(3.25,3)(3.6,1.6)(4,2)(4.5,0.1)(5,0.5)(5.5,-1.4)(6,-1)(6.25,3)(6.6,1.6)(7,2)(7.5,0.1)(8,0.5)(8.5,-1.4)(9,-1)(9.5,-2.9)(10,-2.5)(10.25,1)(10.6,-0.4)(11,0)(11.5,-1.9)(12,-1.5)(12.5,-3.4)(13,-3)(13.5,-4.4)(14,-4)(14.25,0)(14.6,-1.4)(15,-1)(15.5,-2.4)(16,-2)(16.25,3)(16.6,2.6)(17,4.5)(17.5,5.6)(18,6)(18.3,7.5)(18.6,7.1)(19,10)(19.3,9.6)(19.5,12)(20,15.3)(20.2,15)(20.5,20)(21,26)(21.3,28)(21.6,27.5)(21.9,28.8)(22.1,28)(22.4,28.4)(22.7,31.1)(23.2,29.8)(23.5,28.6)(23.75,27.6)};
\addplot[cN] coordinates {(0,0)(0.5,-1)(1,5)(1.3,11)(1.7,13)(2.1,12.6)(2.5,12.8)(3,11.5)(3.5,11)(4,12.5)(4.5,12.5)(5,11.8)(5.4,11.2)(5.8,11.5)(6.1,20.7)(6.4,19.4)(7,18.6)(7.7,18.8)(8.1,17.2)(8.5,18.4)(9,17)(9.5,16.5)(10,15.8)(10.5,15.5)(10.7,15)(11.1,14.3)(11.5,14)(12,13.4)(12.5,12)(13,11.5)(13.5,10)(13.9,8.6)(14.2,7)(14.3,23.2)(14.9,21.6)(15.1,25.3)(15.8,23.4)(16.2,28.4)(16.9,25.5)(17.2,29.4)(18,26.9)(18.4,27.8)(19,26.3)(19.3,27)(19.6,26)(20,24.9)(20.2,25.4)(20.7,24)(21,24.8)(21.2,24.5)(21.8,23)(22.1,22)(22.3,23.2)(22.9,21.6)(23.1,23.2)(23.75,22.4)};
% flat lines
\addplot[cS] coordinates {(0,0)(0.5,1.4)(1,2)(1.5,0.6)(2,1)(2.5,4.1)(3,4)(3.5,2.6)(4,3)(4.5,5.6)(5,6)(5.5,4.6)(6,5)(6.75,8.6)(19,8.6)(19.5,7)(20,6.4)(20.5,6)(21,8)(21.5,6.6)(22,6.5)(22.5,5.1)(23,5.5)(23.75,4)};
\addplot[cD] coordinates {(0,0)(23.75,0)};
\end{axis}
\end{tikzpicture}
\end{document}
